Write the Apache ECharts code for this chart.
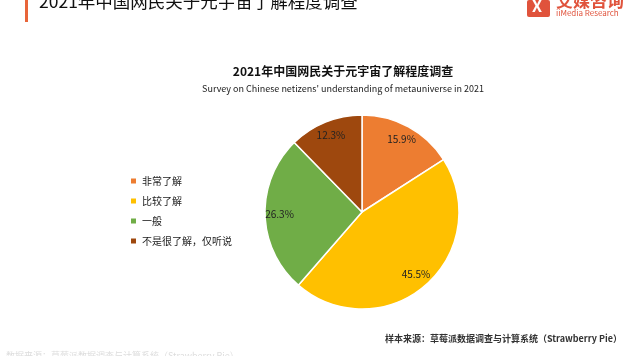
<!DOCTYPE html>
<html><head><meta charset="utf-8">
<script src="https://cdn.jsdelivr.net/npm/echarts@6/dist/echarts.min.js"></script>
<style>html,body{margin:0;padding:0;background:#fff}#c{width:640px;height:356px}</style>
</head><body><div id="c"></div>
<script>
const categories = ['非常了解', '比较了解', '一般', '不是很了解，仅听说'];
const values = [15.9, 45.5, 26.3, 12.3];
const colors = ['#ED7D31', '#FFC000', '#70AD47', '#9E480E'];
const headerTitle = '2021年中国网民关于元宇宙了解程度调查';
const chartTitle = '2021年中国网民关于元宇宙了解程度调查';
const chartSubtitle = "Survey on Chinese netizens' understanding of metauniverse in 2021";
const sourceText = '样本来源：草莓派数据调查与计算系统（Strawberry Pie）';

const data = categories.map((n, i) => ({ name: n, value: values[i], itemStyle: { color: colors[i] } }));
const font = '"Noto Sans CJK SC", "Noto Sans", sans-serif';
const chart = echarts.init(document.getElementById('c'));
chart.setOption({
  animation: false,
  textStyle: { fontFamily: font },
  title: [{
    text: chartTitle, left: 338, top: 60, textAlign: 'center',
    textStyle: { fontSize: 12, fontWeight: 'bold', color: '#111', fontFamily: font }
  }, {
    text: chartSubtitle, left: 338, top: 79, textAlign: 'center',
    textStyle: { fontSize: 9, fontWeight: 'normal', color: '#222', fontFamily: font }
  }],
  legend: {
    orient: 'vertical', left: 124, top: 171, itemWidth: 7, itemHeight: 7, itemGap: 10,
    icon: 'rect', data: categories,
    textStyle: { fontSize: 10, color: '#222', fontFamily: font }
  },
  series: [{
    type: 'pie', center: [362, 212], radius: [0, 97], startAngle: 90, clockwise: true,
    label: { show: false }, labelLine: { show: false },
    itemStyle: { borderColor: '#fff', borderWidth: 1.5 },
    data: data
  }, {
    type: 'pie', center: [362, 212], radius: [62, 97], startAngle: 90, clockwise: true, silent: true,
    legendHoverLink: false,
    itemStyle: { color: 'rgba(0,0,0,0)', borderWidth: 0 },
    label: { show: true, position: 'inside', formatter: p => p.value.toFixed(1) + '%', fontSize: 10, color: '#222', fontFamily: font },
    labelLine: { show: false },
    data: categories.map((n, i) => ({ name: n + ' ', value: values[i] }))
  }],
  graphic: [
    { type: 'rect', shape: { x: 25, y: 0, width: 3, height: 22 }, style: { fill: '#E8653A' } },
    { type: 'text', left: 39, top: -7, style: { text: headerTitle, fontSize: 17.5, fill: '#111', fontFamily: font } },
    { type: 'rect', shape: { x: 527, y: 0, width: 23, height: 17, r: 2 }, style: { fill: '#E0533C' } },
    { type: 'text', left: 532, top: -2, style: { text: 'X', fontSize: 16, fontWeight: 'bold', fill: '#fff', fontFamily: font } },
    { type: 'text', left: 556, top: -8, style: { text: '艾媒咨询', fontSize: 17, fontWeight: 'bold', fill: '#E0533C', fontFamily: font } },
    { type: 'text', left: 556, top: 9, style: { text: 'iiMedia Research', fontSize: 8, fill: '#E0533C', fontFamily: font } },
    { type: 'text', right: 18, top: 334, style: { text: sourceText, fontSize: 9, fontWeight: 'bold', fill: '#333', fontFamily: font } },
    { type: 'text', left: 6, top: 351, style: { text: '数据来源：草莓派数据调查与计算系统（Strawberry Pie）', fontSize: 9, fill: '#ddd', fontFamily: font } }
  ]
});
</script></body></html>
